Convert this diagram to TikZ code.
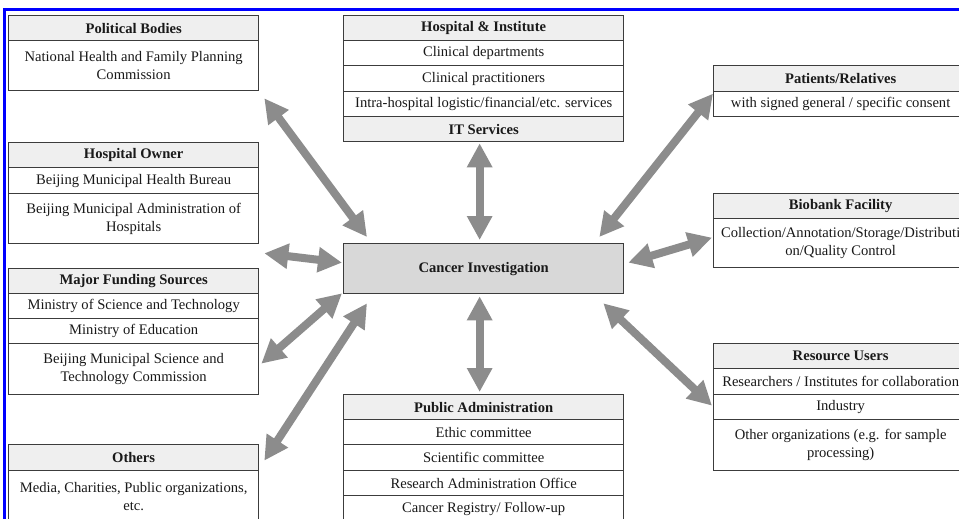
\documentclass[tikz,border=0pt]{standalone}
\usepackage{fontspec}
\setmainfont{Liberation Serif}
\usetikzlibrary{arrows.meta,calc}
\definecolor{boxline}{RGB}{60,60,60}
\definecolor{hdrfill}{RGB}{239,239,239}
\definecolor{cifill}{RGB}{216,216,216}
\definecolor{arrowc}{RGB}{140,140,140}
\definecolor{textc}{RGB}{25,25,25}
\definecolor{framec}{RGB}{0,0,255}
\tikzset{
  cell/.style={draw=boxline, line width=1.3pt, inner sep=1pt, anchor=north west, align=center,
    text=textc, font=\fontsize{14.6}{18}\selectfont},
  hcell/.style={cell, fill=hdrfill, font=\fontsize{14.6}{18}\selectfont\bfseries},
  lw/.style={minimum width=250pt},
  mw/.style={minimum width=280pt},
  rw/.style={minimum width=254pt},
  dbl/.style={draw=arrowc, line width=8pt,
    {Triangle[length=24pt,width=24pt,fill=arrowc]}-{Triangle[length=24pt,width=24pt,fill=arrowc]}, shorten <=0pt, shorten >=0pt},
}
\begin{document}
\begin{tikzpicture}[x=1pt,y=-1pt]
\clip (0,0) rectangle (959,519);
\fill[white] (0,0) rectangle (959,519);
% frame
\draw[framec, line width=3pt] (4,525) -- (4,10) -- (965,10);

% Political Bodies
\node[hcell, lw, minimum height=25pt] (pbh) at (8,15) {Political Bodies};
\node[cell, lw, minimum height=50pt] (pbb) at (8,40) {National Health and Family Planning\\Commission};

% Hospital Owner
\node[hcell, lw, minimum height=25pt] (hoh) at (8,142) {Hospital Owner};
\node[cell, lw, minimum height=26pt] (ho1) at (8,167) {Beijing Municipal Health Bureau};
\node[cell, lw, minimum height=50pt] (ho2) at (8,193) {Beijing Municipal Administration of\\Hospitals};

% Major Funding Sources
\node[hcell, lw, minimum height=25pt] (mfh) at (8,268) {Major Funding Sources};
\node[cell, lw, minimum height=25pt] (mf1) at (8,293) {Ministry of Science and Technology};
\node[cell, lw, minimum height=25pt] (mf2) at (8,318) {Ministry of Education};
\node[cell, lw, minimum height=51pt] (mf3) at (8,343) {Beijing Municipal Science and\\Technology Commission};

% Others
\node[hcell, lw, minimum height=26pt] (oth) at (8,444) {Others};
\node[cell, lw, minimum height=51pt] (otb) at (8,470) {Media, Charities, Public organizations,\\etc.};

% Hospital & Institute
\node[hcell, mw, minimum height=25pt] (hih) at (343,15) {Hospital \& Institute};
\node[cell, mw, minimum height=25pt] (hi1) at (343,40) {Clinical departments};
\node[cell, mw, minimum height=26pt] (hi2) at (343,65) {Clinical practitioners};
\node[cell, mw, minimum height=25pt] (hi3) at (343,91) {Intra-hospital logistic/financial/etc. services};
\node[hcell, mw, minimum height=25pt] (hi4) at (343,116) {IT Services};

% Cancer Investigation
\node[hcell, mw, fill=cifill, minimum height=50pt] (ci) at (343,243) {Cancer Investigation};

% Public Administration
\node[hcell, mw, minimum height=25pt] (pah) at (343,394) {Public Administration};
\node[cell, mw, minimum height=25pt] (pa1) at (343,419) {Ethic committee};
\node[cell, mw, minimum height=26pt] (pa2) at (343,444) {Scientific committee};
\node[cell, mw, minimum height=25pt] (pa3) at (343,470) {Research Administration Office};
\node[cell, mw, minimum height=26pt] (pa4) at (343,495) {Cancer Registry/ Follow-up};

% Patients/Relatives
\node[hcell, rw, minimum height=26pt] (prh) at (713,65) {Patients/Relatives};
\node[cell, rw, minimum height=25pt] (prb) at (713,91) {with signed general / specific consent};

% Biobank Facility
\node[hcell, rw, minimum height=25pt] (bfh) at (713,193) {Biobank Facility};
\node[cell, rw, minimum height=49pt] (bfb) at (713,218) {Collection/Annotation/Storage/Distributi\\on/Quality Control};

% Resource Users
\node[hcell, rw, minimum height=25pt] (ruh) at (713,343) {Resource Users};
\node[cell, rw, minimum height=26pt] (ru1) at (713,368) {Researchers / Institutes for collaboration};
\node[cell, rw, minimum height=25pt] (ru2) at (713,394) {Industry};
\node[cell, rw, minimum height=51pt] (ru3) at (713,419) {Other organizations (e.g. for sample\\processing)};

% connectors
\draw[dbl] ($(pbb.south east)+(5,7)$) -- ($(ci.north west)+(24,-6)$);
\draw[dbl] ($(hi4.south)+(-4,1)$) -- ($(ci.north)+(-4,-3)$);
\draw[dbl] ($(prb.west)+(0,-10.5)$) -- ($(ci.north east)+(-25,-6)$);
\draw[dbl] ($(bfb.west)+(-1,-5.5)$) -- ($(ci.east)+(4,-6)$);
\draw[dbl] ($(ru2.west)+(-1,-1.5)$) -- ($(ci.south east)+(-21,9)$);
\draw[dbl] ($(pah.north)+(-4,-2)$) -- ($(ci.south)+(-4,2)$);
\draw[dbl] ($(ho2.south east)+(5,9)$) -- ($(ci.west)+(-1,-6)$);
\draw[dbl] ($(mf3.east)+(2,-5.5)$) -- ($(ci.south west)+(-1,-1)$);
\draw[dbl] ($(oth.east)+(5,3)$) -- ($(ci.south west)+(24,9)$);
\end{tikzpicture}
\end{document}
